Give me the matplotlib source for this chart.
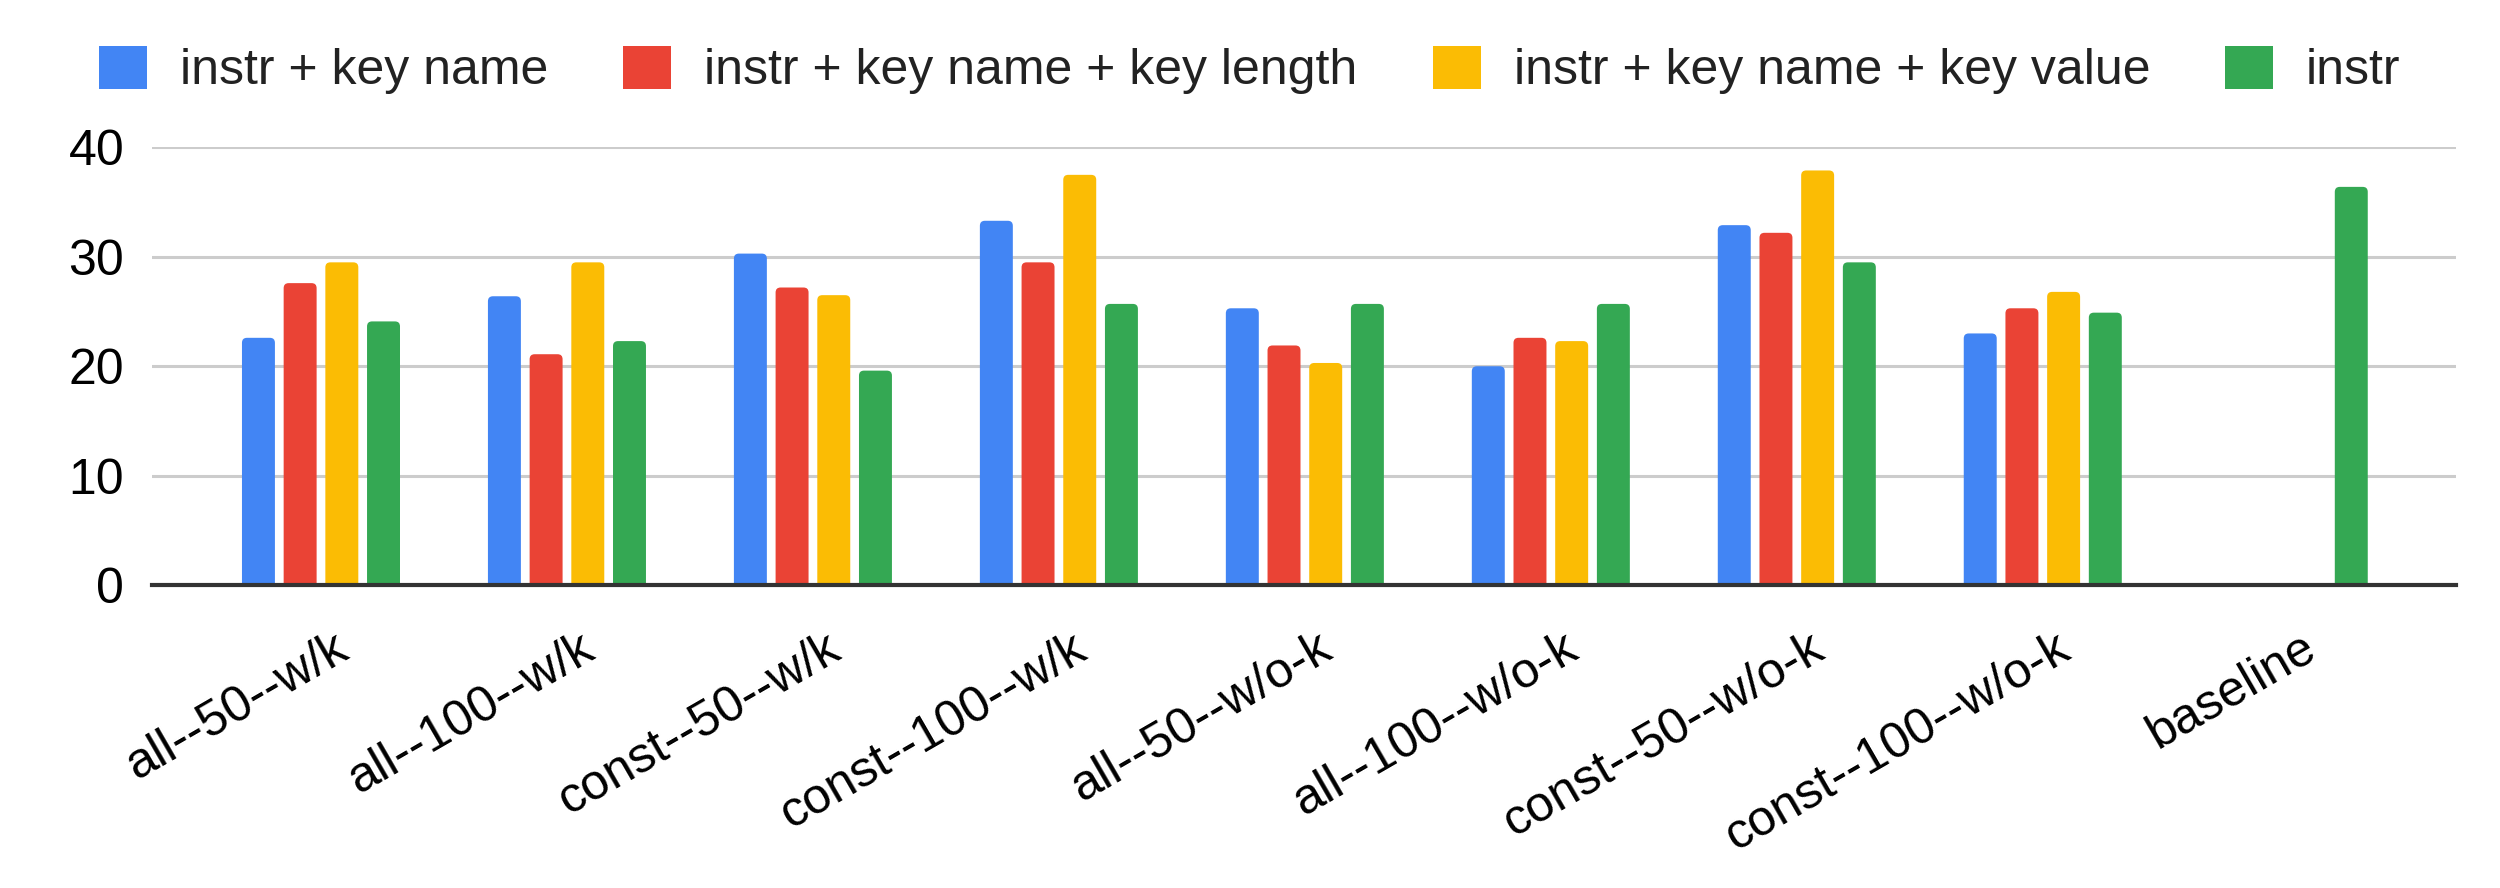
import numpy as np
import matplotlib
matplotlib.use("Agg")
import matplotlib.pyplot as plt
from matplotlib.patches import FancyBboxPatch, Patch
from matplotlib.transforms import ScaledTranslation

# Chart data
categories = ["all--50--w/k", "all--100--w/k", "const--50--w/k", "const--100--w/k",
              "all--50--w/o-k", "all--100--w/o-k", "const--50--w/o-k", "const--100--w/o-k",
              "baseline"]
series_names = ["instr + key name", "instr + key name + key length",
                "instr + key name + key value", "instr"]
key_name = [22.6, 26.4, 30.3, 33.3, 25.3, 20.0, 32.9, 23.0, np.nan]
key_length = [27.6, 21.1, 27.2, 29.5, 21.9, 22.6, 32.2, 25.3, np.nan]
key_value = [29.5, 29.5, 26.5, 37.5, 20.3, 22.3, 37.9, 26.8, np.nan]
instr = [24.1, 22.3, 19.6, 25.7, 25.7, 25.7, 29.5, 24.9, 36.4]
y_ticks = [0, 10, 20, 30, 40]

colors = ["#4285F4", "#EA4335", "#FBBC04", "#34A853"]

plt.rcParams["font.family"] = ["Liberation Sans", "DejaVu Sans"]
FS = 36

fig = plt.figure(figsize=(25, 8.88), dpi=100)
ax = fig.add_axes([0.0608, 0.3412, 0.9216, 0.4927])
ax.set_xlim(-0.687, 8.68)
ax.set_ylim(0, 40)

x = np.arange(len(categories))
pitch = 0.1695
width = 0.134
all_series = [key_name, key_length, key_value, instr]

# rounded top corners, ~5 px
r_x = 0.0203
aspect = 22.5
r_y = r_x * aspect
for i, vals in enumerate(all_series):
    offset = (i - 1.5) * pitch
    bars = ax.bar(x + offset, vals, width, color=colors[i], zorder=2)
    for rect in bars.patches:
        h = rect.get_height()
        rect.set_visible(False)
        if not np.isfinite(h):
            continue
        # same bar, redrawn with rounded top (bottom hidden below the axis)
        rb = FancyBboxPatch((rect.get_x(), -r_y), rect.get_width(), h + r_y,
                            boxstyle=f"round,pad=0,rounding_size={r_x}",
                            mutation_aspect=aspect, facecolor=colors[i],
                            edgecolor="none", zorder=2)
        ax.add_patch(rb)

ax.set_yticks(y_ticks)
ax.set_yticklabels([str(t) for t in y_ticks], fontsize=FS, color="#000000")
ax.tick_params(axis="y", length=0, pad=20)
ax.grid(axis="y", color="#cccccc", linewidth=2.2, zorder=0)
ax.set_axisbelow(True)

for s in ["top", "right", "left"]:
    ax.spines[s].set_visible(False)
ax.spines["bottom"].set_color("#333333")
ax.spines["bottom"].set_linewidth(3)
ax.spines["bottom"].set_zorder(3)

ax.set_xticks(x)
ax.set_xticklabels(categories, fontsize=FS, rotation=30, ha="right",
                   va="center", rotation_mode="anchor", color="#000000")
ax.tick_params(axis="x", length=0, pad=43)
shift = ScaledTranslation(0.24, 0, fig.dpi_scale_trans)
for lbl in ax.get_xticklabels():
    lbl.set_transform(lbl.get_transform() + shift)

handles = [Patch(facecolor=c, edgecolor="none", label=n)
           for c, n in zip(colors, series_names)]
fig.legend(handles=handles, loc="center left", bbox_to_anchor=(0.0396, 1 - 70 / 888),
           ncol=4, frameon=False, fontsize=FS, handlelength=0.96, handleheight=0.96,
           handletextpad=0.66, columnspacing=1.5, borderpad=0, borderaxespad=0,
           labelcolor="#222222")

fig.savefig("out.png", dpi=100, facecolor="white")
